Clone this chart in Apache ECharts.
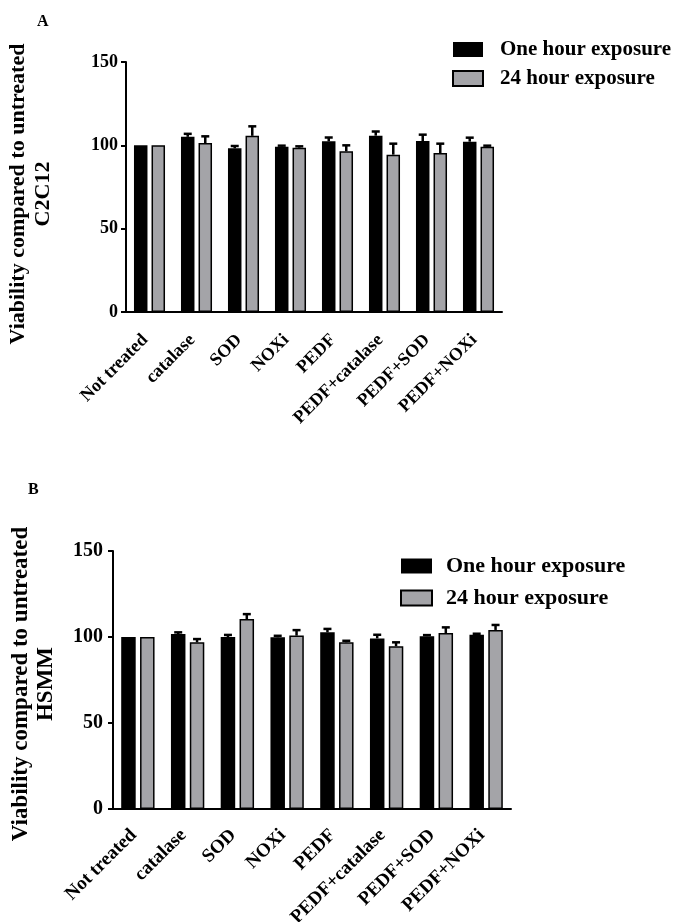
<!DOCTYPE html>
<html>
<head>
<meta charset="utf-8">
<script src="https://cdn.jsdelivr.net/npm/echarts@6/dist/echarts.min.js"></script>
<style>html,body{margin:0;padding:0;background:#fff}#c{width:673px;height:922px}</style>
</head>
<body>
<div id="c"></div>
<script>
const categories = ['Not treated','catalase','SOD','NOXi','PEDF','PEDF+catalase','PEDF+SOD','PEDF+NOXi'];
const yTicks = [0, 50, 100, 150];
const seriesNames = ['One hour exposure', '24 hour exposure'];
// Panel A (C2C12)
const aOneHour = [100, 105.1, 98.2, 99.2, 102.4, 105.8, 102.6, 102.2];
const aOneHourErr = [0, 1.8, 1.4, 0.6, 2.3, 2.5, 3.8, 2.4];
const a24Hour = [100, 101.4, 105.7, 98.6, 96.4, 94.4, 95.4, 99.2];
const a24HourErr = [0, 4.0, 5.7, 0.8, 3.6, 6.6, 5.6, 0.6];
// Panel B (HSMM)
const bOneHour = [100, 101.7, 100.0, 99.8, 102.7, 99.2, 100.5, 101.3];
const bOneHourErr = [0, 1.0, 1.2, 0.9, 2.0, 2.1, 0.6, 0.6];
const b24Hour = [100, 96.9, 110.4, 100.8, 96.9, 94.6, 102.3, 104.1];
const b24HourErr = [0, 1.9, 2.9, 3.2, 0.9, 2.3, 3.3, 2.9];

const FONT = '"Liberation Serif", "Times New Roman", serif';
const GRAY = '#a4a4a8';

function errRender(offset) {
  return function (params, api) {
    const i = api.value(0), v = api.value(1), e = api.value(2);
    if (!e) return null;
    const p0 = api.coord([i, v]);
    const p1 = api.coord([i, v + e]);
    const x = p0[0] + offset;
    return {
      type: 'group',
      children: [
        {type: 'line', shape: {x1: x, y1: p0[1], x2: x, y2: p1[1]}, style: {stroke: '#000', lineWidth: 2.5}},
        {type: 'line', shape: {x1: x - 4, y1: p1[1], x2: x + 4, y2: p1[1]}, style: {stroke: '#000', lineWidth: 2.5}}
      ]
    };
  };
}
function errData(vals, errs) { return vals.map((v, i) => [i, v, errs[i]]); }

const panels = [
  {grid: {left: 126, top: 62, width: 376, height: 250}, name: 'Viability compared to untreated\nC2C12', nameGap: 70,
   nameFont: 22, namePad: [0, 14, 0, 0], xFont: 18, xMargin: 21,
   barWidth: 13.5, one: aOneHour, oneErr: aOneHourErr, d24: a24Hour, d24Err: a24HourErr, tickFont: 18, labelMargin: 8},
  {grid: {left: 113, top: 551, width: 398, height: 258}, name: 'Viability compared to untreated\nHSMM', nameGap: 54,
   nameFont: 23, namePad: [0, 8, 0, 0], xFont: 19, xMargin: 19,
   barWidth: 14.5, one: bOneHour, oneErr: bOneHourErr, d24: b24Hour, d24Err: b24HourErr, tickFont: 20, labelMargin: 10}
];

const grid = [], xAxis = [], yAxis = [], series = [];
panels.forEach((p, k) => {
  grid.push(Object.assign({containLabel: false, outerBoundsMode: 'none'}, p.grid));
  xAxis.push({
    type: 'category', gridIndex: k, data: categories,
    axisLine: {lineStyle: {color: '#000', width: 2}},
    axisTick: {alignWithLabel: true, length: 7, lineStyle: {color: '#000', width: 2}},
    axisLabel: {rotate: 45, interval: 0, margin: p.xMargin, padding: [0, 6, 0, 0], color: '#000',
                fontFamily: FONT, fontWeight: 'bold', fontSize: p.xFont}
  });
  yAxis.push({
    type: 'value', gridIndex: k, min: yTicks[0], max: yTicks[yTicks.length - 1], interval: 50,
    name: p.name, nameLocation: 'middle', nameGap: p.nameGap, nameRotate: 90,
    nameTextStyle: {color: '#000', fontFamily: FONT, fontWeight: 'bold', fontSize: p.nameFont, lineHeight: 25, align: 'center', padding: p.namePad},
    axisLine: {show: true, lineStyle: {color: '#000', width: 2}},
    axisTick: {show: true, length: 5, lineStyle: {color: '#000', width: 2}},
    splitLine: {show: false},
    axisLabel: {margin: p.labelMargin, color: '#000', fontFamily: FONT, fontWeight: 'bold', fontSize: p.tickFont}
  });
  const gap = p.barWidth * 0.3;
  const off = (p.barWidth + gap) / 2;
  series.push({
    name: seriesNames[0], type: 'bar', xAxisIndex: k, yAxisIndex: k, data: p.one,
    barWidth: p.barWidth, barGap: '30%', itemStyle: {color: '#000'}, z: 2
  });
  series.push({
    name: seriesNames[1], type: 'bar', xAxisIndex: k, yAxisIndex: k, data: p.d24,
    barWidth: p.barWidth, barGap: '30%', itemStyle: {color: GRAY, borderColor: '#000', borderWidth: 1.5}, z: 2
  });
  series.push({
    type: 'custom', xAxisIndex: k, yAxisIndex: k, renderItem: errRender(-off),
    data: errData(p.one, p.oneErr), encode: {x: 0, y: 1}, z: 3, silent: true
  });
  series.push({
    type: 'custom', xAxisIndex: k, yAxisIndex: k, renderItem: errRender(off),
    data: errData(p.d24, p.d24Err), encode: {x: 0, y: 1}, z: 3, silent: true
  });
});

const chart = echarts.init(document.getElementById('c'), null, {renderer: 'canvas'});
chart.setOption({
  backgroundColor: '#fff',
  animation: false,
  title: [
    {text: 'A', left: 32, top: 9, padding: 5, textStyle: {fontFamily: FONT, fontWeight: 'bold', fontSize: 16, color: '#000'}},
    {text: 'B', left: 23, top: 477, padding: 5, textStyle: {fontFamily: FONT, fontWeight: 'bold', fontSize: 16, color: '#000'}}
  ],
  legend: [
    {data: seriesNames, orient: 'vertical', left: 447, top: 34, itemWidth: 30, itemHeight: 15, itemGap: 8,
     icon: 'rect', textStyle: {fontFamily: FONT, fontWeight: 'bold', fontSize: 21, color: '#000', padding: [0, 0, 0, 12]}},
    {data: seriesNames, orient: 'vertical', left: 395, top: 550, itemWidth: 31, itemHeight: 15, itemGap: 10,
     icon: 'rect', textStyle: {fontFamily: FONT, fontWeight: 'bold', fontSize: 22, color: '#000', padding: [0, 0, 0, 9]}}
  ],
  grid: grid, xAxis: xAxis, yAxis: yAxis, series: series
});
</script>
</body>
</html>
